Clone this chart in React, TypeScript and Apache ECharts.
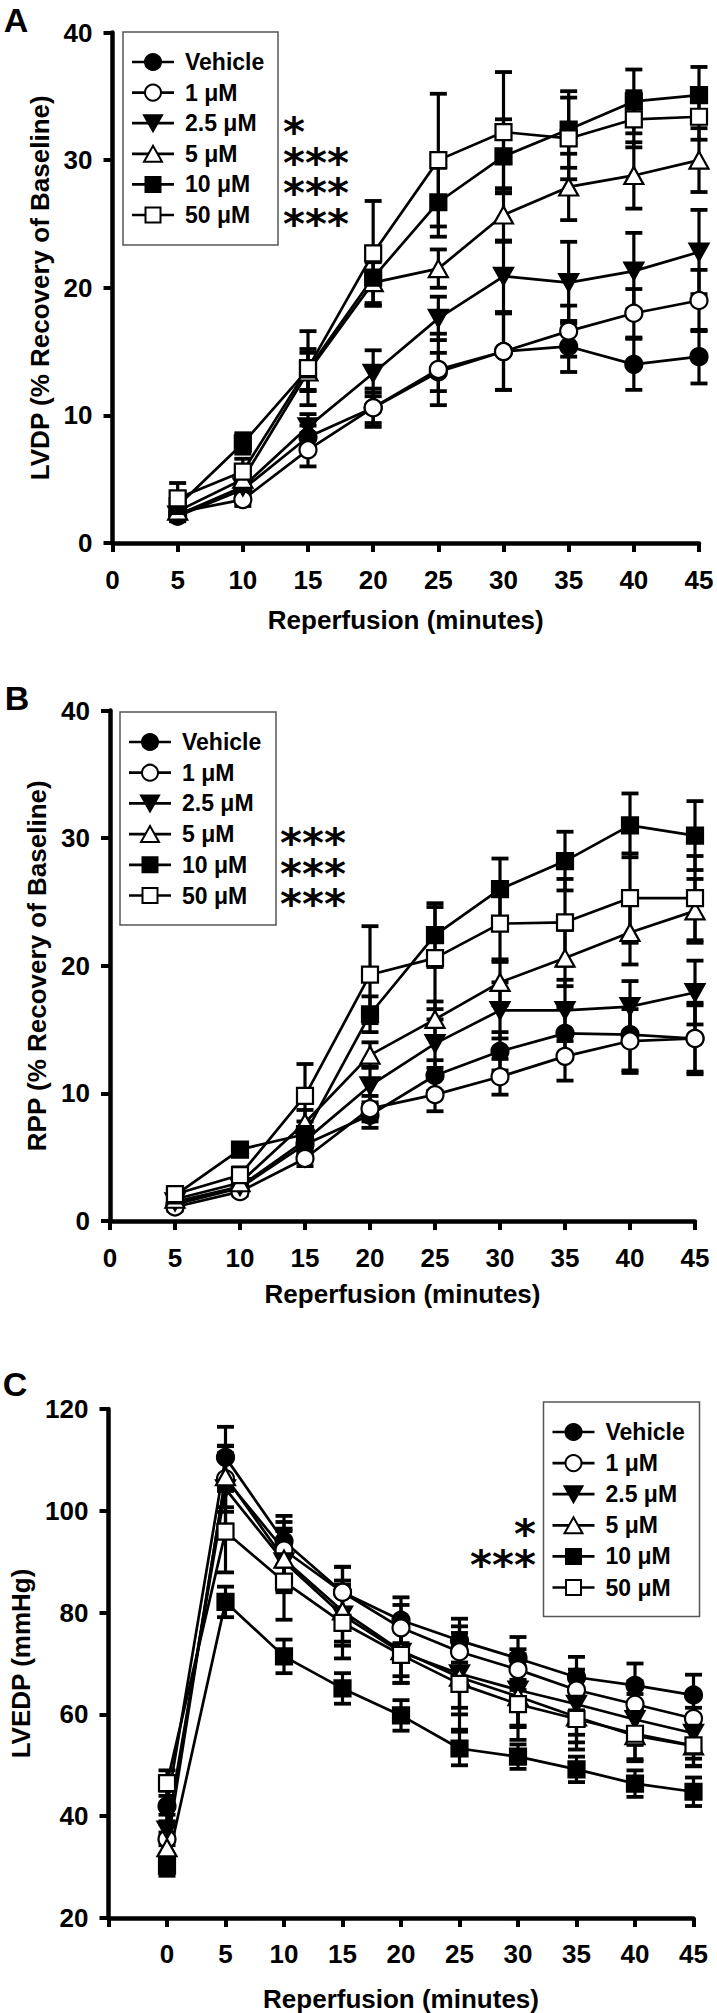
import { useEffect, useRef } from 'react';
import * as echarts from 'echarts';

const FONT = '"Liberation Sans", Arial, Helvetica, sans-serif';

const groups = ['Vehicle', '1 μM', '2.5 μM', '5 μM', '10 μM', '50 μM'];

// Panel A & B time points (minutes of reperfusion)
const timesAB = [5, 10, 15, 20, 25, 30, 35, 40, 45];
// Panel C time points
const timesC = [0, 5, 10, 15, 20, 25, 30, 35, 40, 45];

// Axis ticks
const xTicksAB = { min: 0, max: 45, step: 5 };
const xTicksC = { min: -5, max: 45, step: 5 };
const yTicksA = { min: 0, max: 40, step: 10 };
const yTicksB = { min: 0, max: 40, step: 10 };
const yTicksC = { min: 20, max: 120, step: 20 };

// Panel A: LVDP (% recovery of baseline), mean and SEM
const lvdpVehicle = [2.1, 4.2, 8.3, 10.6, 13.4, 15.0, 15.4, 14.0, 14.6];
const lvdpVehicleSem = [0.4, 0.6, 0.9, 1.2, 1.5, 3.0, 2.0, 2.0, 2.1];
const lvdp1 = [2.4, 3.4, 7.3, 10.6, 13.6, 15.0, 16.6, 18.0, 19.0];
const lvdp1Sem = [0.4, 0.5, 1.3, 1.5, 2.8, 3.0, 2.0, 1.9, 2.4];
const lvdp25 = [2.2, 4.4, 9.1, 13.3, 17.6, 20.9, 20.4, 21.3, 22.8];
const lvdp25Sem = [0.4, 0.7, 1.0, 1.8, 1.7, 2.8, 3.2, 3.0, 3.3];
const lvdp5 = [2.5, 5.0, 13.4, 20.4, 21.5, 25.7, 27.9, 28.8, 30.0];
const lvdp5Sem = [0.5, 0.8, 1.5, 1.6, 1.5, 2.1, 2.6, 2.6, 2.5];
const lvdp10 = [2.9, 7.8, 13.6, 20.8, 26.7, 30.3, 32.4, 34.6, 35.1];
const lvdp10Sem = [0.6, 0.8, 1.6, 2.2, 2.7, 2.9, 3.0, 2.5, 2.2];
const lvdp50 = [3.5, 5.6, 13.7, 22.7, 30.0, 32.2, 31.7, 33.2, 33.4];
const lvdp50Sem = [1.2, 1.0, 2.9, 4.1, 5.2, 4.7, 3.2, 2.2, 1.8];

// Panel B: RPP (% recovery of baseline), mean and SEM
const rppVehicle = [1.3, 2.6, 6.0, 8.3, 11.4, 13.3, 14.7, 14.6, 14.3];
const rppVehicleSem = [0.3, 0.4, 0.8, 1.0, 1.2, 1.5, 2.0, 2.8, 2.6];
const rpp1 = [1.1, 2.3, 4.9, 8.8, 9.9, 11.3, 12.9, 14.1, 14.3];
const rpp1Sem = [0.3, 0.3, 0.6, 1.0, 1.3, 1.4, 1.9, 2.5, 2.8];
const rpp25 = [1.5, 2.7, 6.3, 10.6, 13.9, 16.5, 16.5, 16.8, 17.9];
const rpp25Sem = [0.3, 0.4, 0.9, 1.5, 1.9, 2.2, 2.4, 2.0, 2.5];
const rpp5 = [1.7, 3.0, 7.7, 13.0, 15.8, 18.7, 20.6, 22.6, 24.3];
const rpp5Sem = [0.3, 0.5, 1.0, 1.0, 1.4, 1.8, 2.2, 2.5, 2.5];
const rpp10 = [2.0, 5.6, 6.8, 16.2, 22.4, 26.0, 28.2, 31.0, 30.2];
const rpp10Sem = [0.4, 0.5, 1.0, 1.4, 2.5, 2.4, 2.3, 2.5, 2.7];
const rpp50 = [2.1, 3.6, 9.8, 19.3, 20.6, 23.3, 23.4, 25.3, 25.3];
const rpp50Sem = [0.4, 0.6, 2.5, 3.8, 4.0, 3.0, 3.4, 3.5, 3.3];

// Panel C: LVEDP (mmHg), mean and SEM
const lvedpVehicle = [42.0, 110.5, 94.0, 84.0, 78.5, 74.5, 71.0, 67.3, 65.7, 63.8];
const lvedpVehicleSem = [3.0, 6.0, 5.0, 5.0, 4.5, 4.3, 4.2, 4.0, 4.3, 4.0];
const lvedp1 = [35.5, 106.3, 92.3, 84.0, 77.0, 72.3, 68.8, 64.8, 62.0, 59.2];
const lvedp1Sem = [3.0, 6.5, 5.5, 5.0, 4.5, 5.0, 4.0, 4.0, 4.5, 4.0];
const lvedp25 = [37.3, 104.3, 90.0, 79.5, 72.2, 68.0, 64.8, 62.0, 59.0, 56.3];
const lvedp25Sem = [3.0, 7.0, 6.0, 6.0, 6.0, 8.0, 7.0, 6.0, 5.0, 5.0];
const lvedp5 = [33.8, 106.7, 90.5, 80.3, 72.5, 67.3, 63.5, 59.5, 55.8, 53.8];
const lvedp5Sem = [3.0, 6.0, 6.0, 6.0, 5.0, 6.0, 6.0, 5.0, 5.0, 4.0];
const lvedp10 = [30.3, 82.1, 71.4, 65.1, 59.8, 53.3, 51.7, 49.2, 46.4, 44.8];
const lvedp10Sem = [2.0, 3.0, 3.3, 3.0, 3.0, 3.3, 2.4, 2.5, 2.6, 2.8];
const lvedp50 = [46.5, 95.9, 86.1, 78.0, 71.7, 66.0, 62.0, 59.1, 56.2, 53.9];
const lvedp50Sem = [2.5, 8.0, 7.5, 7.0, 5.5, 9.0, 7.0, 6.0, 5.0, 4.0];

// Significance marks next to the legends
const starsA = ['', '', '*', '***', '***', '***'];
const starsB = ['', '', '', '***', '***', '***'];
const starsC = ['', '', '', '*', '***', ''];

const lvdpMeans = [lvdpVehicle, lvdp1, lvdp25, lvdp5, lvdp10, lvdp50];
const lvdpSems = [lvdpVehicleSem, lvdp1Sem, lvdp25Sem, lvdp5Sem, lvdp10Sem, lvdp50Sem];
const rppMeans = [rppVehicle, rpp1, rpp25, rpp5, rpp10, rpp50];
const rppSems = [rppVehicleSem, rpp1Sem, rpp25Sem, rpp5Sem, rpp10Sem, rpp50Sem];
const lvedpMeans = [lvedpVehicle, lvedp1, lvedp25, lvedp5, lvedp10, lvedp50];
const lvedpSems = [lvedpVehicleSem, lvedp1Sem, lvedp25Sem, lvedp5Sem, lvedp10Sem, lvedp50Sem];

const markerDefs = [
  { symbol: 'circle', size: 17, fill: '#000', rotate: 0 },
  { symbol: 'circle', size: 17, fill: '#fff', rotate: 0 },
  { symbol: 'triangle', size: [19, 17], fill: '#000', rotate: 180 },
  { symbol: 'triangle', size: [19, 17], fill: '#fff', rotate: 0 },
  { symbol: 'rect', size: 16, fill: '#000', rotate: 0 },
  { symbol: 'rect', size: 16, fill: '#fff', rotate: 0 },
];

function errorRender(params: any, api: any) {
  const x = api.value(0);
  const m = api.value(1);
  const s = api.value(2);
  const top = api.coord([x, m + s]);
  const bot = api.coord([x, m - s]);
  const hw = 8.5;
  return {
    type: 'group',
    children: [
      { type: 'line', shape: { x1: top[0], y1: top[1], x2: bot[0], y2: bot[1] }, style: { stroke: '#000', lineWidth: 3.2 } },
      { type: 'line', shape: { x1: top[0] - hw, y1: top[1], x2: top[0] + hw, y2: top[1] }, style: { stroke: '#000', lineWidth: 3.8 } },
      { type: 'line', shape: { x1: bot[0] - hw, y1: bot[1], x2: bot[0] + hw, y2: bot[1] }, style: { stroke: '#000', lineWidth: 3.8 } },
    ],
  };
}

function panelSeries(idx: number, times: number[], means: number[][], sems: number[][]) {
  const out: any[] = [];
  groups.forEach((g, i) => {
    const md = markerDefs[i];
    out.push({
      type: 'custom',
      name: g,
      xAxisIndex: idx,
      yAxisIndex: idx,
      silent: true,
      z: 2,
      encode: { x: 0, y: 1 },
      data: times.map((t, k) => [t, means[i][k], sems[i][k]]),
      renderItem: errorRender,
    });
    out.push({
      type: 'line',
      name: g,
      xAxisIndex: idx,
      yAxisIndex: idx,
      z: 2,
      data: times.map((t, k) => [t, means[i][k]]),
      symbol: md.symbol,
      symbolSize: md.size,
      symbolRotate: md.rotate,
      showAllSymbol: true,
      lineStyle: { color: '#000', width: 2.7 },
      itemStyle: { color: md.fill, borderColor: '#000', borderWidth: 2.2 },
    });
  });
  return out;
}

const labelStyle = { fontSize: 26, fontWeight: 'bold', color: '#000', fontFamily: FONT };

function xAxisDef(idx: number, t: any, nameGap: number, margin: number) {
  return {
    gridIndex: idx,
    type: 'value',
    min: t.min,
    max: t.max,
    interval: t.step,
    name: 'Reperfusion (minutes)',
    nameLocation: 'middle',
    nameGap,
    nameTextStyle: { ...labelStyle },
    axisLine: { onZero: false, lineStyle: { color: '#000', width: 4.5 } },
    axisTick: { length: 9, lineStyle: { color: '#000', width: 4 } },
    axisLabel: { ...labelStyle, margin, formatter: (v: number) => (v < 0 ? '' : String(v)) },
    splitLine: { show: false },
  };
}

function yAxisDef(idx: number, t: any, name: string, nameGap: number) {
  return {
    gridIndex: idx,
    type: 'value',
    min: t.min,
    max: t.max,
    interval: t.step,
    name,
    nameLocation: 'middle',
    nameRotate: 90,
    nameGap,
    nameTextStyle: { ...labelStyle },
    axisLine: { onZero: false, lineStyle: { color: '#000', width: 4.5 } },
    axisTick: { length: 9, lineStyle: { color: '#000', width: 4 } },
    axisLabel: { ...labelStyle, margin: 20 },
    splitLine: { show: false },
  };
}

function markerGraphic(i: number, cx: number, cy: number) {
  const md = markerDefs[i];
  const style = { fill: md.fill, stroke: '#000', lineWidth: 2 };
  if (md.symbol === 'circle') return { type: 'circle', shape: { cx, cy, r: 8 }, style };
  if (md.symbol === 'rect') return { type: 'rect', shape: { x: cx - 7.5, y: cy - 7.5, width: 15, height: 15 }, style };
  const pts = md.rotate === 180
    ? [[cx - 9, cy - 8], [cx + 9, cy - 8], [cx, cy + 8]]
    : [[cx - 9, cy + 8], [cx + 9, cy + 8], [cx, cy - 8]];
  return { type: 'polygon', shape: { points: pts }, style };
}

function legendGraphic(box: any, row0: number, step: number, stars: string[], starX: number, starAlign: string) {
  const els: any[] = [];
  els.push({
    type: 'rect',
    shape: { x: box.x, y: box.y, width: box.w, height: box.h },
    style: { fill: '#fff', stroke: '#555', lineWidth: 1.5 },
    z: 10,
  });
  groups.forEach((g, i) => {
    const cy = row0 + i * step;
    els.push({ type: 'line', shape: { x1: box.x + 9, y1: cy, x2: box.x + 51, y2: cy }, style: { stroke: '#000', lineWidth: 2.7 }, z: 11 });
    els.push({ ...markerGraphic(i, box.x + 30, cy), z: 12 });
    els.push({
      type: 'text',
      x: box.x + 62,
      y: cy,
      z: 12,
      style: { text: g, fontSize: 23, fontWeight: 'bold', fontFamily: FONT, fill: '#000', align: 'left', verticalAlign: 'middle' },
    });
    if (stars[i]) {
      els.push({
        type: 'text',
        x: starX,
        y: cy + 9,
        z: 12,
        scaleX: 1.4,
        scaleY: 1.35,
        style: { text: stars[i], fontSize: 30, lineHeight: 26, fontWeight: 'bold', fontFamily: '"DejaVu Sans", sans-serif', fill: '#000', align: starAlign, verticalAlign: 'middle' },
      });
    }
  });
  return els;
}

function panelLetter(text: string, x: number, y: number) {
  return {
    type: 'text',
    x,
    y,
    style: { text, fontSize: 34, fontWeight: 'bold', fontFamily: FONT, fill: '#000', align: 'center', verticalAlign: 'middle' },
  };
}

export default function App() {
  const ref = useRef<HTMLDivElement>(null);
  useEffect(() => {
    if (!ref.current) return;
    const chart = echarts.init(ref.current, undefined, { renderer: 'svg' });
    const option: any = {
      animation: false,
      backgroundColor: '#fff',
      grid: [
        { left: 112.5, top: 32.5, width: 586.5, height: 510.5 },
        { left: 110, top: 710.5, width: 585, height: 510.5 },
        { left: 108.5, top: 1409, width: 585, height: 513 },
      ],
      xAxis: [
        xAxisDef(0, xTicksAB, 64, 24),
        xAxisDef(1, xTicksAB, 60, 24),
        xAxisDef(2, xTicksC, 68, 23),
      ],
      yAxis: [
        yAxisDef(0, yTicksA, 'LVDP (% Recovery of Baseline)', 59),
        yAxisDef(1, yTicksB, 'RPP (% Recovery of Baseline)', 57),
        yAxisDef(2, yTicksC, 'LVEDP (mmHg)', 69),
      ],
      series: [
        ...panelSeries(0, timesAB, lvdpMeans, lvdpSems),
        ...panelSeries(1, timesAB, rppMeans, rppSems),
        ...panelSeries(2, timesC, lvedpMeans, lvedpSems),
      ],
      graphic: [
        panelLetter('A', 16, 20),
        panelLetter('B', 17, 698),
        panelLetter('C', 15, 1384),
        ...legendGraphic({ x: 123, y: 32, w: 155, h: 213 }, 62, 30.6, starsA, 283, 'left'),
        ...legendGraphic({ x: 120, y: 712, w: 156, h: 213 }, 742, 30.7, starsB, 280, 'left'),
        ...legendGraphic({ x: 543.5, y: 1402, w: 156, h: 214.5 }, 1432, 31.1, starsC, 536, 'right'),
      ],
    };
    chart.setOption(option);
    return () => chart.dispose();
  }, []);
  return (
    <div
      ref={ref}
      style={{ position: 'absolute', left: 0, top: 0, width: 717, height: 2013, background: '#fff' }}
    />
  );
}
